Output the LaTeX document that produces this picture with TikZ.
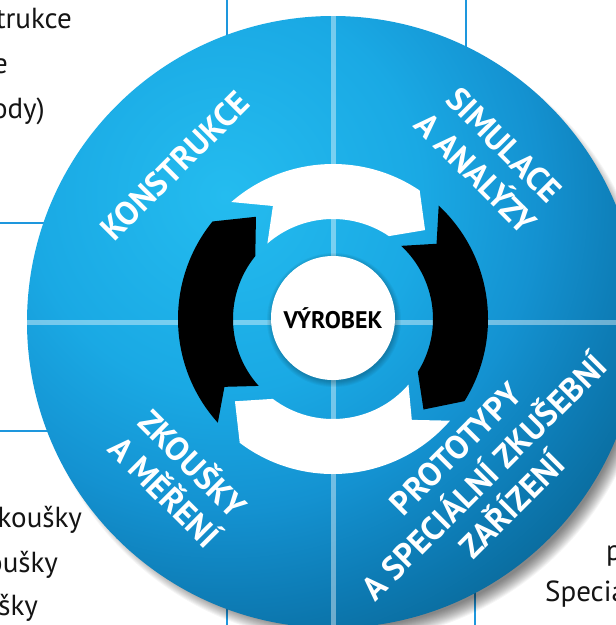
\documentclass[tikz,border=0pt]{standalone}
\usepackage{fontspec}
\setmainfont{PT Sans}
\definecolor{lineblue}{HTML}{1E97DD}
\definecolor{bA}{HTML}{24BCEF}
\definecolor{bB}{HTML}{1AA9E4}
\definecolor{bC}{HTML}{1492D1}
\definecolor{bD}{HTML}{0D7BB4}
\definecolor{bE}{HTML}{0A6A9B}
\pgfdeclareradialshading{ballshade}{\pgfpoint{0bp}{0bp}}{color(0bp)=(bA); color(10bp)=(bB); color(16bp)=(bC); color(21bp)=(bD); color(25bp)=(bE); color(50bp)=(bE)}
\newcommand{\arrowseg}[5]{\fill[#5] (#1:155) arc[start angle=#1,end angle=#3,radius=155] -- (#4:128) -- (#3:100) arc[start angle=#3,end angle=#1,radius=100] -- (#2:128) -- cycle;}
\tikzset{
  frameline/.style={lineblue, line width=2pt},
  sidetext/.style={inner sep=0pt, text=black!92, font=\fontsize{29}{34}\selectfont},
  lbl/.style={text=white, font=\bfseries\fontsize{33}{40}\selectfont, align=center, inner sep=0pt},
}
\begin{document}
\begin{tikzpicture}[x=1pt,y=-1pt]
\useasboundingbox (0,0) rectangle (616,625);
\fill[white] (0,0) rectangle (616,625);
% frame lines behind the ball
\draw[frameline] (0,223) -- (120,223);
\draw[frameline] (0,431) -- (120,431);
\draw[frameline] (227,0) -- (227,100);
\draw[frameline] (466,0) -- (466,100);
\draw[frameline] (227,560) -- (227,625);
\draw[frameline] (475,560) -- (475,625);
% side texts
\node[sidetext, anchor=base east] (t1) at (72,28) {trukce};
\node[sidetext, anchor=base east] (t2) at (8,73) {e};
\node[sidetext, anchor=base east] (t3) at (45,118) {ody)};
\node[sidetext, anchor=base east] (t4) at (82,527) {koušky};
\node[sidetext, anchor=base east] (t5) at (58,572) {oušky};
\node[sidetext, anchor=base east] (t6) at (38,615) {šky};
\node[sidetext, anchor=base west] (t7) at (606,560) {p};
\node[sidetext, anchor=base west] (t8) at (545,601) {Specia};
% ball shadow
\foreach \i in {0,...,14} \fill[black, opacity=0.04] (342,333) circle ({295+\i});
% ball
\begin{scope}
\clip (333,322) circle (306);
\shade[shading=ballshade] (225,195) circle (490);
\draw[white, opacity=0.4, line width=5pt] (0,322) -- (650,322);
\draw[white, opacity=0.4, line width=5pt] (333,0) -- (333,640);
\end{scope}
% cycle arrows
\begin{scope}[shift={(333,319)}, yscale=-1]
\arrowseg{131}{118}{56}{44}{white}
\arrowseg{47}{36}{-32}{-45}{black}
\arrowseg{319}{308}{233}{220}{white}
\arrowseg{222}{212}{141}{127}{black}
\end{scope}
% centre
\foreach \i in {0,...,5} \fill[black, opacity=0.04] (334,320) circle ({62+\i});
\node[circle, fill=white, minimum size=124pt, inner sep=0pt, font=\bfseries\fontsize{24}{28}\selectfont] (prod) at (333,318) {VÝROBEK};
% labels
\node[lbl, rotate=45] (kon) at (175,166) {KONSTRUKCE};
\node[lbl, rotate=-45] (sim) at (490,159) {SIMULACE\\A ANALÝZY};
\node[lbl, rotate=-45] (zko) at (180,476) {ZKOUŠKY\\A MĚŘENÍ};
\node[lbl, rotate=45] (pro) at (484,477) {PROTOTYPY\\A SPECIÁLNÍ ZKUŠEBNÍ\\ZAŘÍZENÍ};
\end{tikzpicture}
\end{document}
